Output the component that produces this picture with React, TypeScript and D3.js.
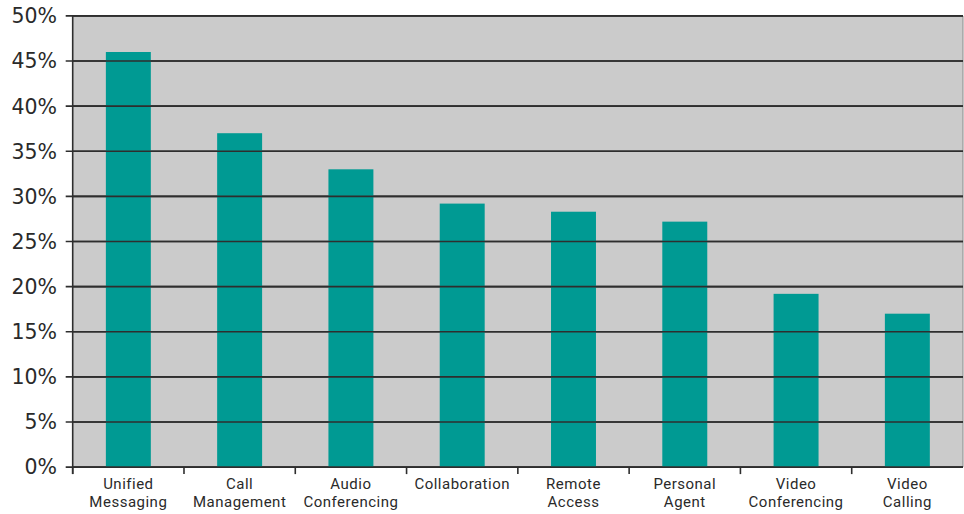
import React from "react";
import * as d3 from "d3";

const categories: string[][] = [
  ["Unified", "Messaging"],
  ["Call", "Management"],
  ["Audio", "Conferencing"],
  ["Collaboration"],
  ["Remote", "Access"],
  ["Personal", "Agent"],
  ["Video", "Conferencing"],
  ["Video", "Calling"],
];
const values: number[] = [46, 37, 33, 29.2, 28.3, 27.2, 19.2, 17];
const yTicks: number[] = [0, 5, 10, 15, 20, 25, 30, 35, 40, 45, 50];

const W = 964;
const H = 514;
const left = 72.7;
const right = 963;
const top = 15.9;
const bottom = 467.1;
const FONT = "'DejaVu Sans', sans-serif";
const XFONT = "Roboto, sans-serif";

export default function App() {
  const keys = categories.map((_, i) => String(i));
  const x = d3.scaleBand<string>().domain(keys).range([left, right]).paddingInner(0.596).paddingOuter(0.298);
  const xOuter = d3.scaleBand<string>().domain(keys).range([left, right]);
  const y = d3.scaleLinear().domain([0, 50]).range([bottom, top]);

  return (
    <svg width={W} height={H} style={{ position: "absolute", left: 0, top: 0 }} fontFamily={FONT}>
      <rect x={left} y={top} width={right - left} height={bottom - top} fill="#cbcbcb" />
      <line x1={right} x2={right} y1={top} y2={bottom} stroke="#8a8a8a" strokeWidth={1} />
      {yTicks.map((t) => (
        <g key={t}>
          <line x1={left - 7} x2={right} y1={y(t)} y2={y(t)} stroke="#2e2e2e" strokeWidth={1.6} />
          <text x={57} y={y(t)} dy="0.36em" textAnchor="end" fontSize={20.5} fill="#2a2a2a">
            {t}%
          </text>
        </g>
      ))}
      {values.map((v, i) => (
        <rect key={i} x={x(String(i))} y={y(v)} width={x.bandwidth()} height={y(0) - y(v)} fill="#009a93" />
      ))}
      {yTicks.filter((t) => t !== 0).map((t) => (
        <line key={"g" + t} x1={left} x2={right} y1={y(t)} y2={y(t)} stroke="#2e2e2e" strokeWidth={1.6} />
      ))}
      <line x1={left} x2={left} y1={top} y2={bottom + 7} stroke="#2e2e2e" strokeWidth={1.6} />
      <line x1={left} x2={right} y1={bottom} y2={bottom} stroke="#2e2e2e" strokeWidth={1.6} />
      {keys.map((k) => (
        <line key={"t" + k} x1={xOuter(k)!} x2={xOuter(k)!} y1={bottom} y2={bottom + 7} stroke="#2e2e2e" strokeWidth={1.6} />
      ))}
      {categories.map((lines, i) =>
        lines.map((ln, j) => (
          <text
            key={"l" + i + "-" + j}
            x={xOuter(String(i))! + xOuter.bandwidth() / 2}
            y={489.3 + j * 18}
            textAnchor="middle"
            fontSize={15}
            letterSpacing={0.5}
            fill="#2a2a2a"
            fontFamily={XFONT}
          >
            {ln}
          </text>
        ))
      )}
    </svg>
  );
}
